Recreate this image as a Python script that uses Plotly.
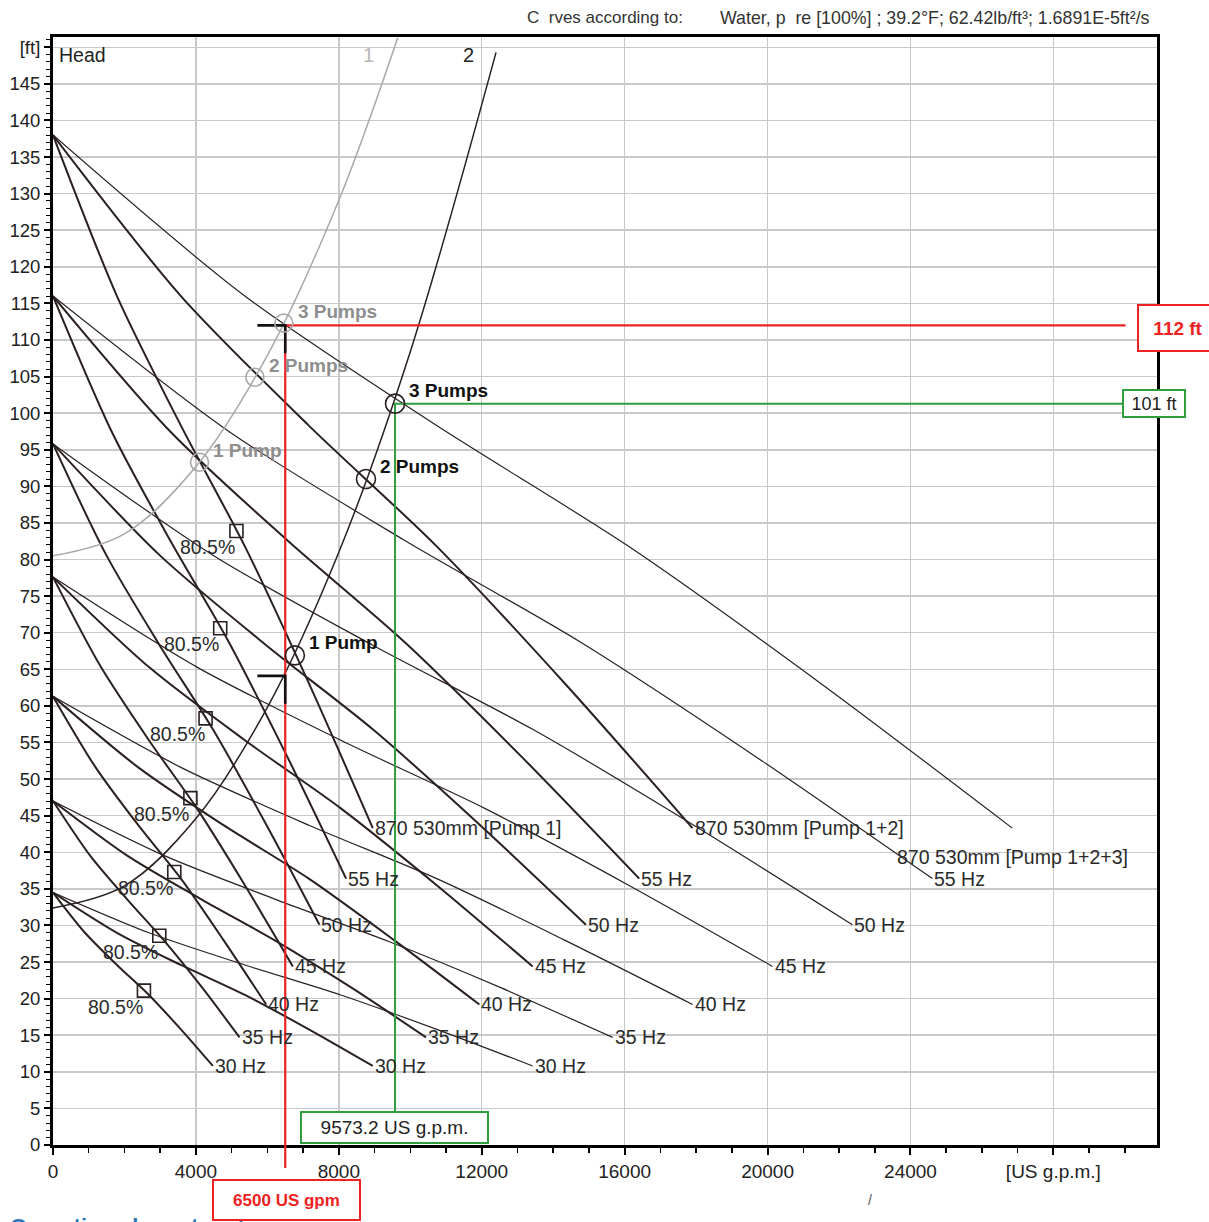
import plotly.graph_objects as go

FONT = "Liberation Sans, Arial, sans-serif"
INK = "#2a2020"
GRAY = "#a8a8a8"
RED = "#ee2222"
GREEN = "#2e9e3e"

# ---------------- data ----------------
# pump head curves: rows = speed (full, 55, 50, 45, 40, 35, 30 Hz)
head_by_speed = [
    [138.0, 116.0, 98.3, 81.8, 63.1, 43.3],
    [116.0, 97.5, 82.6, 68.7, 53.0, 36.4],
    [95.8, 80.6, 68.3, 56.8, 43.8, 30.1],
    [77.6, 65.3, 55.3, 46.0, 35.5, 24.4],
    [61.3, 51.6, 43.7, 36.4, 28.0, 19.2],
    [47.0, 39.5, 33.5, 27.8, 21.5, 14.7],
    [34.5, 29.0, 24.6, 20.5, 15.8, 10.8],
]
flow_pump1 = [
    [0, 1790, 3580, 5370, 7160, 8950],
    [0, 1641, 3282, 4923, 6563, 8204],
    [0, 1492, 2983, 4475, 5967, 7458],
    [0, 1343, 2685, 4028, 5370, 6713],
    [0, 1193, 2387, 3580, 4773, 5967],
    [0, 1044, 2088, 3133, 4177, 5221],
    [0, 895, 1790, 2685, 3580, 4475],
]
flow_pump12 = [
    [0, 3580, 7160, 10740, 14320, 17900],
    [0, 3282, 6564, 9846, 13126, 16408],
    [0, 2984, 5966, 8950, 11934, 14916],
    [0, 2686, 5370, 8056, 10740, 13426],
    [0, 2386, 4774, 7160, 9546, 11934],
    [0, 2088, 4176, 6266, 8354, 10442],
    [0, 1790, 3580, 5370, 7160, 8950],
]
flow_pump123 = [
    [0, 5370, 10740, 16110, 21480, 26850],
    [0, 4923, 9846, 14769, 19689, 24612],
    [0, 4476, 8949, 13425, 17901, 22374],
    [0, 4029, 8055, 12084, 16110, 20139],
    [0, 3579, 7161, 10740, 14319, 17901],
    [0, 3132, 6264, 9399, 12531, 15663],
    [0, 2685, 5370, 8055, 10740, 13425],
]
hz_labels = ["55 Hz", "50 Hz", "45 Hz", "40 Hz", "35 Hz", "30 Hz"]
config_labels = ["870 530mm [Pump 1]", "870 530mm [Pump 1+2]", "870 530mm [Pump 1+2+3]"]
label_123_flow, label_123_head = 23570, 39.3

# system curves
sys1_flow = [0, 2000, 4000, 6000, 8000, 9650]
sys1_head = [80.5, 83.5, 92.7, 107.9, 129.1, 151.3]
sys2_flow = [0, 2000, 4000, 6000, 8000, 10000, 12400]
sys2_head = [32.4, 35.4, 44.6, 59.8, 81.0, 108.4, 149.3]

# operating points
op_labels = ["1 Pump", "2 Pumps", "3 Pumps"]
op1_flow = [4100, 5650, 6460]
op1_head = [93.3, 104.9, 112.3]
op2_flow = [6770, 8760, 9573]
op2_head = [66.9, 91.0, 101.3]

# best efficiency points (single pump, each speed)
bep_flow = [5135, 4680, 4270, 3845, 3395, 2975, 2545]
bep_head = [83.9, 70.6, 58.3, 47.4, 37.3, 28.6, 21.1]
bep_label = "80.5%"

# duty lines
red_flow, red_head, red_low_head = 6500, 112, 64.1
green_flow, green_head = 9573.2, 101.3

x_ticks = [0, 4000, 8000, 12000, 16000, 20000, 24000, 28000]
x_ticktext = ["0", "4000", "8000", "12000", "16000", "20000", "24000", "[US g.p.m.]"]
y_ticks = list(range(0, 151, 5))
y_ticktext = [str(v) for v in range(0, 150, 5)] + ["[ft]"]

X_MAX, Y_MAX = 30900, 151.4

fig = go.Figure()
annotations = []

# pump curves
for flows, width, cfg in [(flow_pump1, 2.0, 0), (flow_pump12, 2.0, 1), (flow_pump123, 1.2, 2)]:
    for i, (q, h) in enumerate(zip(flows, head_by_speed)):
        fig.add_trace(go.Scatter(x=q, y=h, mode="lines",
                                 line=dict(color=INK, width=width, shape="spline", smoothing=0.8),
                                 hoverinfo="skip"))
        if i == 0:
            txt = config_labels[cfg]
            ax, ay = (label_123_flow, label_123_head) if cfg == 2 else (q[-1], h[-1])
        else:
            txt = hz_labels[i - 1]
            ax, ay = q[-1], h[-1]
        annotations.append(dict(x=ax, y=ay, xref="x", yref="y", text=txt, showarrow=False,
                                xanchor="left", yanchor="middle",
                                font=dict(family=FONT, size=19.5, color="#2b2b2b")))

# system curves
fig.add_trace(go.Scatter(x=sys1_flow, y=sys1_head, mode="lines",
                         line=dict(color=GRAY, width=1.5, shape="spline"), hoverinfo="skip"))
fig.add_trace(go.Scatter(x=sys2_flow, y=sys2_head, mode="lines",
                         line=dict(color=INK, width=1.5, shape="spline"), hoverinfo="skip"))

# red duty lines
fig.add_trace(go.Scatter(x=[red_flow, red_flow, X_MAX * 0.9715], y=[0, red_head, red_head], mode="lines",
                         line=dict(color=RED, width=2.2), hoverinfo="skip"))
# green duty lines
fig.add_trace(go.Scatter(x=[green_flow, green_flow, X_MAX * 0.9686], y=[4.5, green_head, green_head],
                         mode="lines", line=dict(color=GREEN, width=2), hoverinfo="skip"))
# black corner markers
for yy in [red_head, red_low_head]:
    fig.add_trace(go.Scatter(x=[red_flow - 780, red_flow, red_flow], y=[yy, yy, yy - 3.8],
                             mode="lines", line=dict(color="#111111", width=2.6), hoverinfo="skip"))

# operating points
fig.add_trace(go.Scatter(x=op1_flow, y=op1_head, mode="markers",
                         marker=dict(symbol="circle-open", size=18, color=GRAY, line=dict(width=1.6)),
                         hoverinfo="skip"))
fig.add_trace(go.Scatter(x=op2_flow, y=op2_head, mode="markers",
                         marker=dict(symbol="circle-open", size=19, color=INK, line=dict(width=1.6)),
                         hoverinfo="skip"))
for q, h, t in zip(op1_flow, op1_head, op_labels):
    annotations.append(dict(x=q, y=h, xref="x", yref="y", text="<b>%s</b>" % t, showarrow=False,
                            xanchor="left", yanchor="middle", xshift=12, yshift=12,
                            font=dict(family=FONT, size=19, color="#8e8e8e")))
for q, h, t in zip(op2_flow, op2_head, op_labels):
    annotations.append(dict(x=q, y=h, xref="x", yref="y", text="<b>%s</b>" % t, showarrow=False,
                            xanchor="left", yanchor="middle", xshift=12, yshift=13,
                            font=dict(family=FONT, size=19, color="#111111")))

# BEP squares
fig.add_trace(go.Scatter(x=bep_flow, y=bep_head, mode="markers",
                         marker=dict(symbol="square-open", size=13, color=INK, line=dict(width=1.6)),
                         hoverinfo="skip"))
for q, h in zip(bep_flow, bep_head):
    annotations.append(dict(x=q, y=h, xref="x", yref="y", text=bep_label, showarrow=False,
                            xanchor="right", yanchor="middle", xshift=1, yshift=-16,
                            font=dict(family=FONT, size=19.5, color="#2b2b2b")))

# system curve numbers
annotations.append(dict(x=8820, y=148.9, xref="x", yref="y", text="1", showarrow=False,
                        xanchor="center", yanchor="middle",
                        font=dict(family=FONT, size=20, color="#b8b8b8")))
annotations.append(dict(x=11620, y=148.9, xref="x", yref="y", text="2", showarrow=False,
                        xanchor="center", yanchor="middle",
                        font=dict(family=FONT, size=20, color="#222222")))
annotations.append(dict(x=0.0036, y=0.984, xref="paper", yref="paper", text="Head", showarrow=False,
                        xanchor="left", yanchor="middle", font=dict(family=FONT, size=19.5, color="#222222")))

# header
annotations.append(dict(x=0.4275, y=1.0172, xref="paper", yref="paper", text="C  rves according to:",
                        showarrow=False, xanchor="left", yanchor="middle",
                        font=dict(family=FONT, size=17, color="#333333")))
annotations.append(dict(x=0.6023, y=1.0172, xref="paper", yref="paper",
                        text="Water, p  re [100%] ; 39.2°F; 62.42lb/ft³; 1.6891E-5ft²/s",
                        showarrow=False, xanchor="left", yanchor="middle",
                        font=dict(family=FONT, size=17.8, color="#333333")))

# footer blue text (cut off by page edge)
annotations.append(dict(x=-0.041, y=-0.0605, xref="paper", yref="paper", text="<b>Operating characteristics</b>",
                        showarrow=False, xanchor="left", yanchor="top",
                        font=dict(family=FONT, size=22, color="#2a74b8")))
annotations.append(dict(x=0.74, y=-0.0496, xref="paper", yref="paper", text="/",
                        showarrow=False, xanchor="center", yanchor="middle",
                        font=dict(family=FONT, size=14, color="#555555")))

# boxed value labels
annotations.append(dict(x=red_flow + 40, y=-0.0496, xref="x", yref="paper", text="<b>6500 US gpm</b>",
                        showarrow=False, xanchor="center", yanchor="middle",
                        font=dict(family=FONT, size=17, color=RED),
                        bgcolor="white", bordercolor=RED, borderwidth=2, borderpad=2,
                        width=141, height=34))
annotations.append(dict(x=green_flow - 13, y=2.4, xref="x", yref="y", text="9573.2 US g.p.m.",
                        showarrow=False, xanchor="center", yanchor="middle",
                        font=dict(family=FONT, size=19, color="#222222"),
                        bgcolor="white", bordercolor=GREEN, borderwidth=2, borderpad=1,
                        width=183, height=27))
annotations.append(dict(x=30806, y=green_head, xref="x", yref="y", text="101 ft",
                        showarrow=False, xanchor="center", yanchor="middle",
                        font=dict(family=FONT, size=18, color="#222222"),
                        bgcolor="white", bordercolor=GREEN, borderwidth=2, borderpad=1,
                        width=58, height=23))
annotations.append(dict(x=0.9819, y=111.6, xref="paper", yref="y", text="<b>112 ft</b>",
                        showarrow=False, xanchor="left", yanchor="middle",
                        font=dict(family=FONT, size=19, color=RED),
                        bgcolor="white", bordercolor=RED, borderwidth=2, borderpad=2,
                        width=74, height=40))

shapes = [dict(type="line", xref="x", yref="paper", x0=red_flow, x1=red_flow, y0=0, y1=-0.0208,
               line=dict(color=RED, width=2.2), layer="above")]

fig.update_layout(
    width=1209, height=1222,
    margin=dict(l=53, r=52, t=37, b=77, autoexpand=False),
    paper_bgcolor="white", plot_bgcolor="white",
    showlegend=False,
    hovermode=False,
    annotations=annotations,
    shapes=shapes,
    font=dict(family=FONT),
    xaxis=dict(range=[0, X_MAX], tickvals=x_ticks, ticktext=x_ticktext, automargin=False,
               showgrid=True, gridcolor="#c9c9c9", gridwidth=1.5, zeroline=False,
               showline=True, linecolor="#000000", linewidth=3, mirror=True,
               ticks="outside", ticklen=7, tickwidth=2, tickcolor="#000000",
               tickfont=dict(family=FONT, size=19, color="#222222"),
               minor=dict(dtick=1000, ticks="outside", ticklen=5, tickwidth=1.5, tickcolor="#000000",
                          showgrid=False)),
    yaxis=dict(range=[0, Y_MAX], tickvals=y_ticks, ticktext=y_ticktext, automargin=False,
               showgrid=True, gridcolor="#c9c9c9", gridwidth=1.5, zeroline=False,
               showline=True, linecolor="#000000", linewidth=3, mirror=True,
               ticks="outside", ticklen=6, tickwidth=2, tickcolor="#000000",
               tickfont=dict(family=FONT, size=18.5, color="#222222"),
               minor=dict(dtick=1, ticks="outside", ticklen=4, tickwidth=1, tickcolor="#000000",
                          showgrid=False)),
)

fig.write_html("out.html", config={"displayModeBar": False, "staticPlot": True},
               post_script="document.body.style.margin='0px';")
